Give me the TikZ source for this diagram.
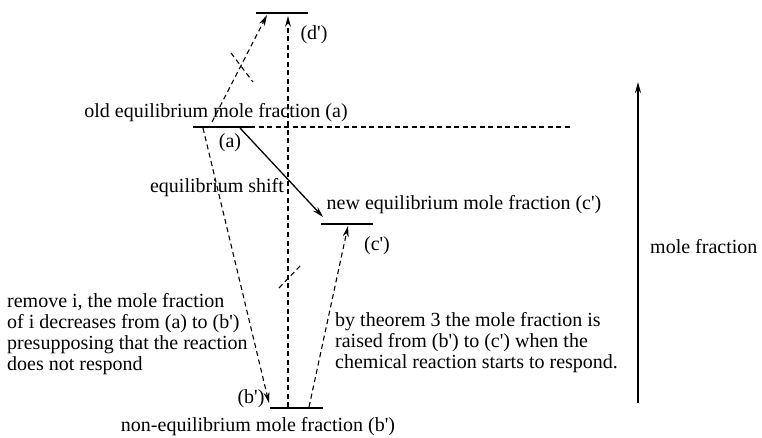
\documentclass[tikz,border=0pt]{standalone}
\usepackage{fontspec}
\setmainfont{Liberation Serif}
\usetikzlibrary{arrows.meta}
\newcommand{\pr}{\textquotesingle}

\begin{document}
\begin{tikzpicture}[x=1pt, y=-1pt, >={Stealth[length=11pt,width=6pt]},
  every node/.style={font=\fontsize{20}{21}\selectfont, inner sep=0pt},
  level/.style={line width=1.8pt},
  dsh/.style={line width=1.1pt, dash pattern=on 5pt off 3.5pt}]

\useasboundingbox (0,0) rectangle (762,438);

% Levels
\coordinate (D1) at (256,13);
\coordinate (D2) at (308,13);
\coordinate (A1) at (193,127);
\coordinate (A2) at (250,127);
\coordinate (A3) at (572,127);
\coordinate (C1) at (321,224);
\coordinate (C2) at (373,224);
\coordinate (B1) at (270,408);
\coordinate (B2) at (323,408);

\draw[level] (D1) -- (D2);
\draw[level] (A1) -- (A2);
\draw[dsh] (A2) -- (A3);
\draw[level] (C1) -- (C2);
\draw[level] (B1) -- (B2);

% Level labels
\node (labD) at (314,35) {(d\pr)};
\node (labA) at (230,143) {(a)};
\node (labC) at (377,246) {(c\pr)};
\node (labB) at (251,399) {(b\pr)};
\node (oldeq) at (216,113) {old equilibrium mole fraction (a)};
\node (neweq) at (464,205) {new equilibrium mole fraction (c\pr)};
\node (noneq) at (258,427) {non-equilibrium mole fraction (b\pr)};
\node (shift) at (217,188) {equilibrium shift};

% Arrows
\coordinate (aLeft) at (203,128);
\coordinate (bTip) at (269,403);
\coordinate (aRight) at (240,128);
\coordinate (cTip) at (323,217);
\coordinate (bRight) at (309,407);
\coordinate (cUp) at (348,226);
\coordinate (bMid) at (288,407);
\coordinate (dUp) at (288,16);
\coordinate (aUp) at (212,122);
\coordinate (dLeft) at (267,15);

\draw[dsh, ->] (aLeft) -- (bTip);
\draw[line width=1.3pt, ->] (aRight) -- (cTip);
\draw[dsh, ->] (bRight) -- (cUp);
\draw[dsh, ->] (bMid) -- (dUp);
\draw[dsh, ->] (aUp) -- (dLeft);

% Forbidden marks
\coordinate (x1a) at (231,53);
\coordinate (x1b) at (253,82);
\coordinate (x2a) at (279,288);
\coordinate (x2b) at (300,266);
\draw[dsh] (x1a) -- (x1b);
\draw[dsh] (x2a) -- (x2b);

% Notes
\node[anchor=west, align=left] (remove) at (7,334)
  {remove i, the mole fraction\\of i decreases from (a) to (b\pr)\\presupposing that the reaction\\does not respond};
\node[anchor=west, align=left] (theorem) at (335,343)
  {by theorem 3 the mole fraction is\\raised from (b\pr) to (c\pr) when the\\chemical reaction starts to respond.};

% Axis
\coordinate (axBot) at (638,403);
\coordinate (axTop) at (638,82);
\draw[line width=1.8pt, ->] (axBot) -- (axTop);
\node[anchor=west] (axlab) at (650,247) {mole fraction};

\end{tikzpicture}
\end{document}
